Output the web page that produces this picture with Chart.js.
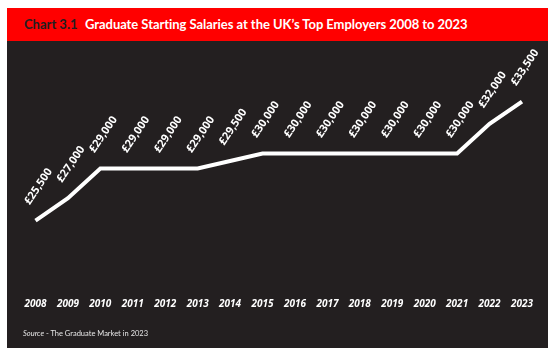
<!DOCTYPE html>
<html>
<head>
<meta charset="utf-8">
<script src="https://cdn.jsdelivr.net/npm/chart.js@4"></script>
<style>
  html, body { margin: 0; padding: 0; background: #ffffff; width: 553px; height: 355px; overflow: hidden; }
  #header { position: absolute; left: 7px; top: 8px; width: 541px; height: 33px; background: #ff0000;
            font-family: Lato, "Open Sans", sans-serif; font-weight: bold; font-size: 13px; line-height: 33px; white-space: nowrap; }
  #header .num { position: absolute; left: 17px; color: #231f20; }
  #header .txt { position: absolute; left: 78px; color: #ffffff; letter-spacing: -0.05px; }
  #panel { position: absolute; left: 7px; top: 41px; width: 541px; height: 307px; background: #231f20; }
  #chart { position: absolute; left: 0; top: 0; }
  #source { position: absolute; left: 16px; top: 288px; font-family: Lato, "Open Sans", sans-serif; font-size: 7.5px; color: #e6e6e6; white-space: nowrap; }
  #source i { font-style: italic; }
</style>
</head>
<body>
<div id="header"><span class="num">Chart 3.1</span><span class="txt">Graduate Starting Salaries at the UK’s Top Employers 2008 to 2023</span></div>
<div id="panel">
  <canvas id="chart" width="541" height="307"></canvas>
  <div id="source"><i>Source</i> - The Graduate Market in 2023</div>
</div>
<script>
const years = ["2008","2009","2010","2011","2012","2013","2014","2015","2016","2017","2018","2019","2020","2021","2022","2023"];
const salaries = [25500, 27000, 29000, 29000, 29000, 29000, 29500, 30000, 30000, 30000, 30000, 30000, 30000, 30000, 32000, 33500];
const salaryLabels = ["£25,500","£27,000","£29,000","£29,000","£29,000","£29,000","£29,500","£30,000","£30,000","£30,000","£30,000","£30,000","£30,000","£30,000","£32,000","£33,500"];

const valueLabels = {
  id: 'valueLabels',
  afterDatasetsDraw(chart) {
    const ctx = chart.ctx;
    const meta = chart.getDatasetMeta(0);
    ctx.save();
    ctx.fillStyle = '#ffffff';
    ctx.font = 'bold 11px "Open Sans", sans-serif';
    ctx.textAlign = 'center';
    ctx.textBaseline = 'middle';
    meta.data.forEach((pt, i) => {
      ctx.save();
      ctx.translate(pt.x + 3, pt.y - 34);
      ctx.rotate(-56 * Math.PI / 180);
      ctx.fillText(salaryLabels[i], 0, 0);
      ctx.restore();
    });
    ctx.restore();
  }
};

new Chart(document.getElementById('chart'), {
  type: 'line',
  data: {
    labels: years,
    datasets: [{
      data: salaries,
      borderColor: '#ffffff',
      borderWidth: 4,
      pointRadius: 0,
      tension: 0,
      fill: false
    }]
  },
  options: {
    responsive: false,
    animation: false,
    devicePixelRatio: 1,
    layout: { padding: { left: 28.5, right: 26, top: 4, bottom: 23 } },
    plugins: { legend: { display: false }, tooltip: { enabled: false }, title: { display: false } },
    scales: {
      x: {
        grid: { display: false, drawTicks: false },
        border: { display: false },
        ticks: { color: '#ffffff', padding: 15, maxRotation: 0, autoSkip: false,
                 font: { family: '"Open Sans", sans-serif', weight: 'bold', style: 'italic', size: 10 } }
      },
      y: { display: false, min: 21300, max: 37300 }
    }
  },
  plugins: [valueLabels]
});
</script>
</body>
</html>
